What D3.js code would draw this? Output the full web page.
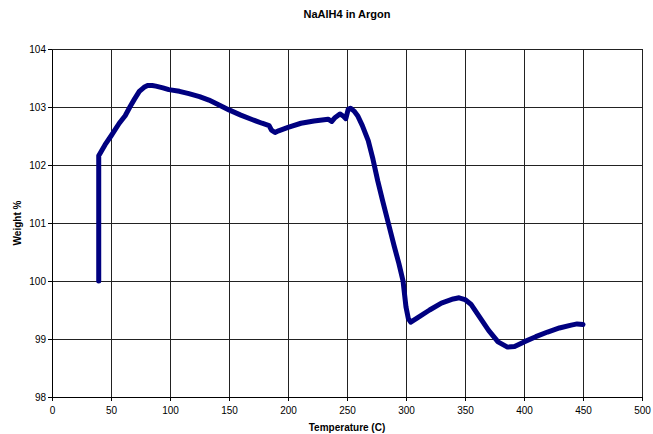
<!DOCTYPE html>
<html>
<head>
<meta charset="utf-8">
<script src="https://cdn.jsdelivr.net/npm/d3@7"></script>
<style>
  body { margin: 0; background: #fff; }
  text { font-family: "Liberation Sans", Arial, sans-serif; }
</style>
</head>
<body>
<div id="chart"></div>
<script>
// Curve (temperature in C, weight %)
const temps = [39.6, 39.6, 45, 50, 57, 62, 66, 70, 74, 78, 81, 85, 88, 94, 99, 108, 116, 125, 133, 142,
  150, 160, 170, 178, 184, 186, 189, 192, 200, 211, 222, 234, 237, 240, 244, 247, 249, 251, 253,
  256, 259, 263, 268, 272, 276, 280, 285, 290, 294, 297.5, 300, 302, 304, 310, 320, 330, 340,
  345, 350, 355, 360, 370, 378, 386, 392, 400, 410, 420, 430, 440, 445, 450];
const weights = [100.0, 102.16, 102.35, 102.5, 102.72, 102.85, 103.0, 103.14, 103.27, 103.34, 103.37, 103.37, 103.36, 103.33, 103.3, 103.27, 103.23, 103.18, 103.12, 103.03,
  102.95, 102.86, 102.78, 102.72, 102.68, 102.6, 102.56, 102.59, 102.65, 102.72, 102.76, 102.79, 102.75, 102.82, 102.88, 102.84, 102.8, 102.96, 102.98,
  102.93, 102.85, 102.68, 102.42, 102.1, 101.73, 101.4, 101.0, 100.6, 100.3, 100.0, 99.55, 99.35, 99.29, 99.37, 99.5, 99.62, 99.69,
  99.71, 99.68, 99.6, 99.45, 99.15, 98.95, 98.86, 98.87, 98.95, 99.04, 99.12, 99.19, 99.24, 99.26, 99.25];

const xTicks = [0, 50, 100, 150, 200, 250, 300, 350, 400, 450, 500];
const yTicks = [98, 99, 100, 101, 102, 103, 104];

// Setting the dimensions and margins of the graph
const margin = {top: 49, right: 11, bottom: 37, left: 52},
    width = 653 - margin.left - margin.right,
    height = 434 - margin.top - margin.bottom;

const svg = d3.select("#chart")
    .append("svg")
    .attr("width", 653)
    .attr("height", 434);

const g = svg.append("g")
    .attr("transform", `translate(${margin.left},${margin.top})`);

const x = d3.scaleLinear().domain([0, 500]).range([0, width]);
const y = d3.scaleLinear().domain([98, 104]).range([height, 0]);

// Gridlines
g.append("g")
    .selectAll("line")
    .data(xTicks)
    .join("line")
    .attr("x1", d => x(d)).attr("x2", d => x(d))
    .attr("y1", 0).attr("y2", height)
    .attr("stroke", "#222")
    .attr("stroke-width", 1)
    .attr("shape-rendering", "crispEdges");

g.append("g")
    .selectAll("line")
    .data(yTicks)
    .join("line")
    .attr("x1", 0).attr("x2", width)
    .attr("y1", d => y(d)).attr("y2", d => y(d))
    .attr("stroke", "#222")
    .attr("stroke-width", 1)
    .attr("shape-rendering", "crispEdges");

// Axes
const xAxis = g.append("g")
    .attr("transform", `translate(0,${height})`)
    .call(d3.axisBottom(x).tickValues(xTicks).tickFormat(d3.format("d")).tickSize(4).tickPadding(6).tickSizeOuter(0));
const yAxis = g.append("g")
    .call(d3.axisLeft(y).tickValues(yTicks).tickFormat(d3.format("d")).tickSize(4).tickPadding(2).tickSizeOuter(0));

[xAxis, yAxis].forEach(a => {
  a.select(".domain").attr("stroke", "#000").attr("shape-rendering", "crispEdges");
  a.selectAll(".tick line").attr("stroke", "#000").attr("shape-rendering", "crispEdges");
  a.selectAll(".tick text")
    .attr("fill", "#000")
    .style("font-family", "'Liberation Sans', Arial, sans-serif")
    .style("font-size", "10px");
});

// The curve
const pts = temps.map((t, i) => [t, weights[i]]);
g.append("path")
    .datum(pts)
    .attr("fill", "none")
    .attr("stroke", "#000080")
    .attr("stroke-width", 5)
    .attr("stroke-linejoin", "round")
    .attr("stroke-linecap", "round")
    .attr("d", d3.line().x(d => x(d[0])).y(d => y(d[1])));

// Titles
svg.append("text")
    .attr("x", margin.left + width / 2)
    .attr("y", 18)
    .attr("text-anchor", "middle")
    .style("font-size", "11px")
    .style("font-weight", "bold")
    .text("NaAlH4 in Argon");

svg.append("text")
    .attr("x", margin.left + width / 2)
    .attr("y", 431)
    .attr("text-anchor", "middle")
    .style("font-size", "10px")
    .style("font-weight", "bold")
    .text("Temperature (C)");

svg.append("text")
    .attr("transform", `translate(21,${margin.top + height / 2}) rotate(-90)`)
    .attr("text-anchor", "middle")
    .style("font-size", "10px")
    .style("font-weight", "bold")
    .text("Weight %");
</script>
</body>
</html>
